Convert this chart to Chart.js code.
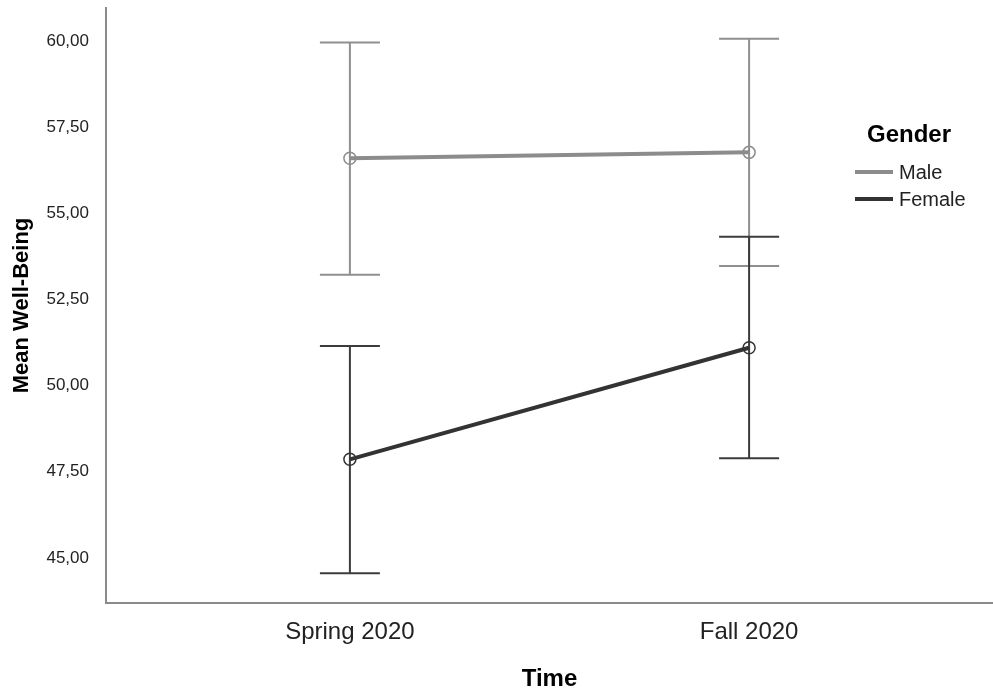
<!DOCTYPE html>
<html>
<head>
<meta charset="utf-8">
<script src="https://cdn.jsdelivr.net/npm/chart.js@4.4.1/dist/chart.umd.min.js"></script>
<style>
  html, body { margin: 0; padding: 0; background: #fff; }
  #wrap { width: 993px; height: 695px; }
</style>
</head>
<body>
<div id="wrap"><canvas id="grafica" width="993" height="695"></canvas></div>
<script>
// datos
const tiempos = ["Spring 2020", "Fall 2020"];
const mediaMale = [56.60, 56.77];
const ciLowMale = [53.22, 53.47];
const ciHighMale = [59.96, 60.07];
const mediaFemale = [47.86, 51.10];
const ciLowFemale = [44.55, 47.89];
const ciHighFemale = [51.15, 54.32];
const ticksY = [45, 47.5, 50, 52.5, 55, 57.5, 60];

const colorMale = '#8c8c8c';
const colorFemale = '#333333';

function puntos(arr) {
  return arr.map((v, i) => ({ x: i, y: v }));
}

// barras de error (IC 95%)
const errorBars = {
  id: 'errorBars',
  beforeDatasetsDraw: (chart) => {
    const ctx = chart.ctx;
    const xs = chart.scales.x, ys = chart.scales.y;
    const grupos = [
      { lo: ciLowMale, hi: ciHighMale, color: '#8f8f8f' },
      { lo: ciLowFemale, hi: ciHighFemale, color: '#3c3c3c' }
    ];
    ctx.save();
    ctx.lineWidth = 2;
    grupos.forEach(g => {
      ctx.strokeStyle = g.color;
      g.lo.forEach((lo, i) => {
        const px = xs.getPixelForValue(i);
        const y1 = ys.getPixelForValue(lo);
        const y2 = ys.getPixelForValue(g.hi[i]);
        ctx.beginPath();
        ctx.moveTo(px, y1); ctx.lineTo(px, y2);
        ctx.moveTo(px - 30, y1); ctx.lineTo(px + 30, y1);
        ctx.moveTo(px - 30, y2); ctx.lineTo(px + 30, y2);
        ctx.stroke();
      });
    });
    ctx.restore();
  }
};

// leyenda propia
const leyenda = {
  id: 'leyenda',
  afterDraw: (chart) => {
    const ctx = chart.ctx;
    ctx.save();
    ctx.fillStyle = '#000';
    ctx.font = 'bold 24px Arial, "Liberation Sans"';
    ctx.textBaseline = 'middle';
    ctx.textAlign = 'left';
    ctx.fillText('Gender', 867, 135);
    const items = [['Male', colorMale, 172], ['Female', colorFemale, 199]];
    ctx.font = '20px Arial, "Liberation Sans"';
    items.forEach(it => {
      ctx.strokeStyle = it[1];
      ctx.lineWidth = 4;
      ctx.beginPath();
      ctx.moveTo(855, it[2]); ctx.lineTo(893, it[2]);
      ctx.stroke();
      ctx.fillStyle = '#222';
      ctx.fillText(it[0], 899, it[2] + 1);
    });
    ctx.restore();
  }
};

const plugin = {
  id: 'custom_canvas_background_color',
  beforeDraw: (chart) => {
    const ctx = chart.canvas.getContext('2d');
    ctx.save();
    ctx.globalCompositeOperation = 'destination-over';
    ctx.fillStyle = 'white';
    ctx.fillRect(0, 0, chart.width, chart.height);
    ctx.restore();
  }
};

const ctz = document.getElementById('grafica');
const myChart = new Chart(ctz, {
  type: 'line',
  data: {
    datasets: [
      {
        label: 'Male',
        data: puntos(mediaMale),
        borderColor: colorMale,
        borderWidth: 4,
        pointStyle: 'circle',
        pointRadius: 6,
        pointBorderWidth: 1.5,
        pointBorderColor: colorMale,
        pointBackgroundColor: 'rgba(255,255,255,0)',
        tension: 0
      },
      {
        label: 'Female',
        data: puntos(mediaFemale),
        borderColor: colorFemale,
        borderWidth: 4,
        pointStyle: 'circle',
        pointRadius: 6,
        pointBorderWidth: 1.5,
        pointBorderColor: colorFemale,
        pointBackgroundColor: 'rgba(255,255,255,0)',
        tension: 0
      }
    ]
  },
  options: {
    responsive: false,
    animation: false,
    layout: { autoPadding: false, padding: { top: 8, right: 0, left: 0, bottom: 0 } },
    plugins: {
      legend: { display: false },
      tooltip: { enabled: false }
    },
    scales: {
      x: {
        type: 'linear',
        min: -0.611,
        max: 1.611,
        afterBuildTicks: (scale) => { scale.ticks = tiempos.map((t, i) => ({ value: i })); },
        afterFit: (scale) => {
          scale.height = 92;
          scale.paddingLeft = 0;
          scale.paddingRight = 0;
        },
        grid: { display: false },
        border: { display: true, color: '#8a8a8a', width: 2 },
        ticks: {
          callback: (v) => tiempos[v],
          color: '#222',
          font: { family: 'Arial, "Liberation Sans"', size: 24 },
          padding: 7,
          maxRotation: 0
        },
        title: {
          display: true,
          text: 'Time',
          color: '#000',
          font: { family: 'Arial, "Liberation Sans"', size: 24, weight: 'bold' },
          padding: { top: 0, bottom: 1 }
        }
      },
      y: {
        min: 43.69,
        max: 60.96,
        afterBuildTicks: (scale) => { scale.ticks = ticksY.map(v => ({ value: v })); },
        afterFit: (scale) => {
          scale.width = 106;
          scale.paddingTop = 0;
          scale.paddingBottom = 0;
        },
        grid: { display: false },
        border: { display: true, color: '#8a8a8a', width: 2 },
        ticks: {
          callback: (v) => v.toFixed(2).replace('.', ','),
          color: '#222',
          font: { family: 'Arial, "Liberation Sans"', size: 17 },
          padding: 9
        },
        title: {
          display: true,
          text: 'Mean Well-Being',
          color: '#000',
          font: { family: 'Arial, "Liberation Sans"', size: 22, weight: 'bold' },
          padding: { top: 9, bottom: 0 }
        }
      }
    }
  },
  plugins: [plugin, errorBars, leyenda]
});
</script>
</body>
</html>
